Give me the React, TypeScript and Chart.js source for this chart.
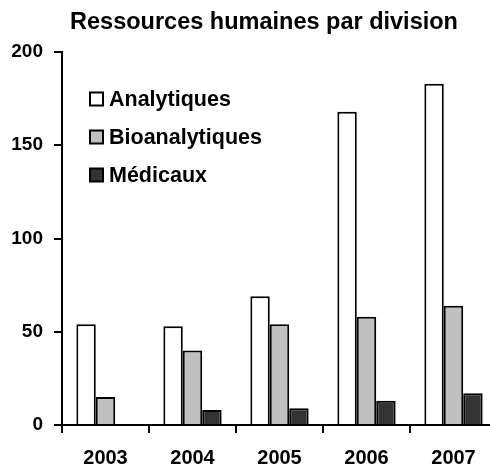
import React, { useEffect, useRef } from "react";
import { Chart, registerables } from "chart.js";

Chart.register(...registerables);

const categories = ["2003", "2004", "2005", "2006", "2007"];
const analytiques = [54, 53, 69, 168, 183];
const bioanalytiques = [15, 40, 54, 58, 64];
const medicaux = [0, 8, 9, 13, 17];
const seriesLabels = ["Analytiques", "Bioanalytiques", "Médicaux"];
const seriesColors = ["#ffffff", "#c0c0c0", "#333333"];
const yTicks = [0, 50, 100, 150, 200];
const titleText = "Ressources humaines par division";

const FONT = "'Liberation Sans', Arial, sans-serif";

export default function App() {
  const ref = useRef<HTMLCanvasElement | null>(null);

  useEffect(() => {
    document.body.style.margin = "0";
    document.body.style.overflow = "hidden";
    const canvas = ref.current!;
    const overlay = {
      id: "overlay",
      afterDraw(chart: any) {
        const ctx = chart.ctx;
        ctx.save();
        ctx.fillStyle = "#000";
        ctx.font = `bold 23.5px ${FONT}`;
        ctx.textAlign = "center";
        ctx.textBaseline = "middle";
        ctx.fillText(titleText, 264, 23);
        // legend
        ctx.font = `bold 21.5px ${FONT}`;
        ctx.textAlign = "left";
        seriesLabels.forEach((lab, i) => {
          const cy = 99 + i * 38;
          ctx.fillStyle = seriesColors[i];
          ctx.fillRect(90, cy - 6.5, 13, 13);
          ctx.strokeStyle = "#000";
          ctx.lineWidth = 2;
          ctx.strokeRect(90, cy - 6.5, 13, 13);
          ctx.fillStyle = "#000";
          ctx.fillText(lab, 109, cy + 1);
        });
        ctx.restore();
      },
    };
    const mk = (i: number, data: number[]) => ({
      label: seriesLabels[i],
      data,
      backgroundColor: seriesColors[i],
      borderColor: "#000",
      borderWidth: 2,
      barPercentage: 1,
      categoryPercentage: 0.67,
    });
    const chart = new Chart(canvas, {
      type: "bar",
      data: {
        labels: categories,
        datasets: [mk(0, analytiques), mk(1, bioanalytiques), mk(2, medicaux)],
      },
      options: {
        responsive: false,
        animation: false,
        layout: { padding: { left: 0, top: 52, right: 3, bottom: 0 } },
        plugins: { legend: { display: false }, title: { display: false }, tooltip: { enabled: false } },
        scales: {
          x: {
            grid: { display: true, drawOnChartArea: false, drawTicks: true, tickLength: 8, color: "#000", lineWidth: 2, offset: true },
            border: { display: true, color: "#000", width: 2 },
            ticks: { color: "#000", font: { family: FONT, size: 20, weight: "bold" }, padding: 13, maxRotation: 0 },
            afterFit: (s: any) => { s.height = 40; },
          },
          y: {
            min: 0,
            max: 200,
            afterBuildTicks: (s: any) => { s.ticks = yTicks.map((v) => ({ value: v })); },
            grid: { display: true, drawOnChartArea: false, drawTicks: true, tickLength: 8, color: "#000", lineWidth: 2 },
            border: { display: true, color: "#000", width: 2 },
            ticks: { color: "#000", font: { family: FONT, size: 19, weight: "bold" }, padding: 11 },
            afterFit: (s: any) => { s.width = 62; },
          },
        },
      },
      plugins: [overlay],
    } as any);
    return () => chart.destroy();
  }, []);

  return (
    <div style={{ width: 490, height: 465, overflow: "hidden" }}>
      <canvas ref={ref} width={500} height={465} />
    </div>
  );
}
